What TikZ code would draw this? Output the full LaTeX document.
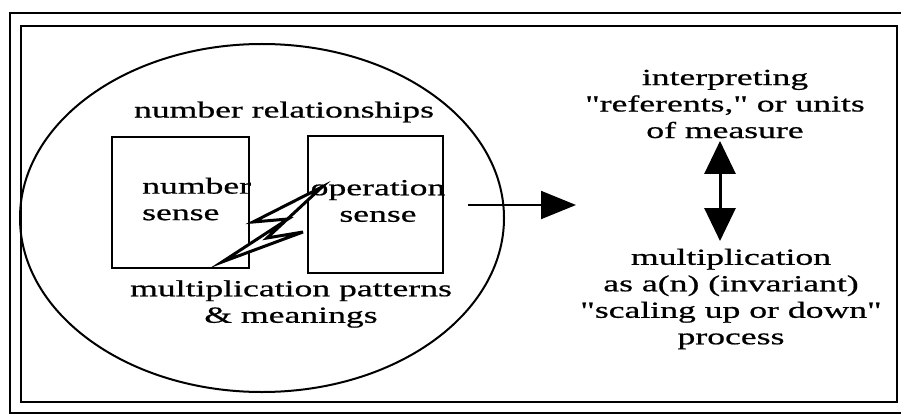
\documentclass[tikz,border=0pt]{standalone}
\usepackage{fontspec}
\setmainfont[FakeStretch=1.55,FakeBold=0.7,Ligatures=TeXOff]{Liberation Serif}
\usetikzlibrary{arrows.meta,shapes.geometric}
\tikzset{
  lbl/.style={inner sep=0pt, font=\fontsize{23}{26.5}\selectfont, align=center},
  sensebox/.style={draw, line width=1.6pt, rectangle, inner sep=0pt},
  frame/.style={draw, line width=1.4pt},
  bigarrow/.style={line width=2pt, -{Triangle[length=35pt,width=28pt]}},
  dblarrow/.style={line width=3pt, {Triangle[length=33pt,width=31pt]}-{Triangle[length=33pt,width=31pt]}}
}
\begin{document}
\begin{tikzpicture}[x=1pt,y=-1pt]
\useasboundingbox (0,0) rectangle (901,414);
% frames
\draw[frame, line width=1.2pt] (905,13) -- (10,13) -- (10,413) -- (905,413);
\draw[frame] (21,26) rectangle (897,402);
% ellipse
\node[draw, line width=2pt, ellipse, minimum width=484pt, minimum height=348pt, inner sep=0pt] (ell) at (262,218) {};
% texts inside ellipse
\node[lbl] (rel) at (284,112) {number relationships};
\node[lbl, align=left, anchor=west] (ns) at (142,199) {number\\sense};
\node[lbl] (os) at (378,201) {operation\\sense};
\node[lbl] (mp) at (291,304) {multiplication patterns\\\& meanings};
% boxes
\node[sensebox, minimum width=137pt, minimum height=131pt] (nbox) at (180.5,202.5) {};
\node[sensebox, minimum width=135pt, minimum height=137pt] (obox) at (375.5,204.5) {};
% lightning bolt
\draw[line width=3pt, fill=white, line join=miter] (322,187) -- (253,222) -- (288,219) -- (222,262) -- (303,232) -- (267,238) -- cycle;
% main arrow
\coordinate (as) at (468,205);
\coordinate (ae) at (576,205);
\draw[bigarrow] (as) -- (ae);
% right texts
\node[lbl] (ref) at (725,104) {interpreting\\"referents," or units\\of measure};
\node[lbl] (mult) at (731,299) {multiplication\\as a(n) (invariant)\\"scaling up or down"\\process};
\coordinate (dt) at (720,141);
\coordinate (db) at (720,241);
\draw[dblarrow] (dt) -- (db);
\end{tikzpicture}
\end{document}
